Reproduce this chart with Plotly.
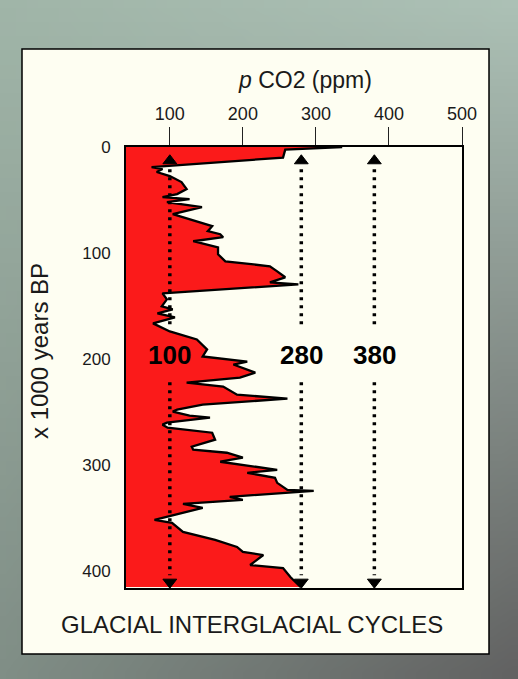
import base64, struct, zlib
import plotly.graph_objects as go

# ---------------- data ----------------
kyr_bp = [0, 2.5, 10, 19, 20.8, 23.6, 27.4, 33.1, 39.7, 44.4, 47.3, 49.2, 52.0, 56.7,
          63.4, 74.7, 79.4, 82.3, 85.1, 88.9, 94.6, 101.2, 107.8, 112.5,
          117.3, 122.9, 127.7, 129.6, 138.1, 143.7, 150.4, 153.2, 157.0, 160.8,
          166.4, 174.0, 181.6, 191.0, 197.6, 202.4, 205.2, 212.8, 217.5, 222.2,
          226.0, 233.6, 237.4, 243.0, 247.8, 249.6, 253.4, 255.3, 260.0, 261.9,
          264.8, 269.5, 276.1, 282.7, 285.6, 288.4, 293.1, 296.9, 304.5, 307.3,
          312.1, 316.8, 323.4, 324.3, 330.0, 332.9, 336.6, 340.4, 351.8, 354.6,
          363.1, 370.7, 377.3, 382.0, 384.9, 394.3, 397.2, 405.7, 415.1]
co2_ppm = [336, 258, 255, 75, 90, 82, 100, 116, 123, 110, 90, 127, 96, 144,
           104, 158, 152, 169, 173, 132, 166, 166, 176, 237,
           247, 258, 237, 276, 90, 96, 89, 104, 83, 107,
           77, 100, 137, 151, 145, 206, 187, 217, 196, 123,
           173, 192, 261, 145, 110, 104, 127, 155, 96, 90,
           97, 158, 162, 130, 132, 178, 200, 169, 247, 206,
           244, 247, 261, 297, 182, 200, 118, 145, 79, 103,
           118, 162, 192, 200, 228, 210, 255, 265, 279]

x_ticks = [100, 200, 300, 400, 500]
y_ticks = [0, 100, 200, 300, 400]
reference_levels = [100, 280, 380]
reference_labels = ["100", "280", "380"]

# arrow geometry (in kyr BP)
arrow_head_top = 13.0
arrow_head_bottom = 410.5
dots_upper = (21, 172)
dots_lower = (222, 404)
label_kyr = 196

W, H = 518, 679

# ---------------- gradient background as PNG ----------------
def make_png(w, h, colors):
    raw = b"".join(b"\x00" + bytes(sum(row, [])) for row in colors)
    def chunk(tag, data):
        c = struct.pack(">I", len(data)) + tag + data
        return c + struct.pack(">I", zlib.crc32(tag + data) & 0xffffffff)
    ihdr = struct.pack(">IIBBBBB", w, h, 8, 2, 0, 0, 0)
    return (b"\x89PNG\r\n\x1a\n" + chunk(b"IHDR", ihdr) +
            chunk(b"IDAT", zlib.compress(raw, 9)) + chunk(b"IEND", b""))

TL, TR, BL, BR = (160, 181, 168), (172, 192, 181), (128, 142, 134), (98, 98, 98)
gw, gh = 48, 48
rows = []
for j in range(gh):
    v = j / (gh - 1)
    row = []
    for i in range(gw):
        u = i / (gw - 1)
        px = []
        for k in range(3):
            top = TL[k] * (1 - u) + TR[k] * u
            bot = BL[k] * (1 - u) + BR[k] * u
            px.append(int(round(top * (1 - v) + bot * v)))
        row.append(px)
    rows.append(row)
png_uri = "data:image/png;base64," + base64.b64encode(make_png(gw, gh, rows)).decode()

def fx(px):
    return px / W

def fy(py):
    return 1 - py / H

fig = go.Figure()

# CO2 curve with red fill
fig.add_trace(go.Scatter(
    x=co2_ppm, y=kyr_bp, mode="lines", fill="tozerox",
    fillcolor="#fb1a1a", line=dict(color="black", width=2.3),
    hoverinfo="skip", showlegend=False))

# dotted reference arrows
for lvl in reference_levels:
    for seg in (dots_upper, dots_lower):
        fig.add_trace(go.Scatter(
            x=[lvl, lvl], y=list(seg), mode="lines",
            line=dict(color="black", width=3.5, dash="3px,5px"),
            hoverinfo="skip", showlegend=False))
fig.add_trace(go.Scatter(
    x=reference_levels, y=[arrow_head_top] * len(reference_levels), mode="markers",
    marker=dict(symbol="triangle-up", size=12, color="black",
                line=dict(color="black", width=1)),
    cliponaxis=False, hoverinfo="skip", showlegend=False))
fig.add_trace(go.Scatter(
    x=reference_levels, y=[arrow_head_bottom] * len(reference_levels), mode="markers",
    marker=dict(symbol="triangle-down", size=12, color="black",
                line=dict(color="black", width=1)),
    cliponaxis=False, hoverinfo="skip", showlegend=False))

annotations = []
for lvl, lab in zip(reference_levels, reference_labels):
    annotations.append(dict(
        x=lvl, y=label_kyr, xref="x", yref="y", text="<b>%s</b>" % lab,
        showarrow=False, xanchor="center", yanchor="middle",
        font=dict(size=26, color="black",
                  family="Liberation Sans, Arial, sans-serif")))

annotations += [
    dict(x=fx(305), y=fy(80), xref="paper", yref="paper",
         text="<i>p</i> CO2 (ppm)", showarrow=False,
         xanchor="center", yanchor="middle",
         font=dict(size=23, color="#1a1a1a")),
    dict(x=fx(39), y=fy(351), xref="paper", yref="paper",
         text="x 1000 years BP", textangle=-90, showarrow=False,
         xanchor="center", yanchor="middle",
         font=dict(size=24, color="#1a1a1a")),
    dict(x=fx(252), y=fy(624), xref="paper", yref="paper",
         text="GLACIAL INTERGLACIAL CYCLES", showarrow=False,
         xanchor="center", yanchor="middle",
         font=dict(size=24, color="#1a1a1a")),
]

fig.update_layout(
    width=W, height=H, autosize=False,
    margin=dict(l=0, r=0, t=0, b=0, pad=0),
    paper_bgcolor="#909a94",
    plot_bgcolor="rgba(0,0,0,0)",
    font=dict(family="Liberation Sans, Arial, sans-serif", color="#1a1a1a"),
    showlegend=False,
    images=[dict(source=png_uri, xref="paper", yref="paper", x=0, y=1,
                 sizex=1, sizey=1, sizing="stretch", xanchor="left",
                 yanchor="top", layer="below")],
    shapes=[dict(type="rect", xref="paper", yref="paper",
                 x0=fx(22), x1=fx(489), y0=fy(654), y1=fy(49),
                 fillcolor="#fefef2", line=dict(color="black", width=1.5),
                 layer="below")],
    annotations=annotations,
    xaxis=dict(domain=[fx(126), fx(462)], range=[40, 500], side="top",
               tickvals=x_ticks, ticks="outside", ticklen=18, tickwidth=1,
               tickcolor="#222", showline=True, mirror=True, linecolor="black",
               linewidth=2, showgrid=False, zeroline=False, automargin=False,
               tickfont=dict(size=18, color="#1a1a1a"), ticklabelstandoff=0),
    yaxis=dict(domain=[fy(588), fy(147)], range=[416, 0],
               tickvals=y_ticks, ticks="outside", ticklen=10, automargin=False,
               tickcolor="rgba(0,0,0,0)", showline=True, mirror=True,
               linecolor="black", linewidth=2, showgrid=False, zeroline=False,
               tickfont=dict(size=17, color="#1a1a1a")),
)

fig.write_html("out.html", config={"displayModeBar": False},
               post_script="document.body.style.margin='0';document.body.style.overflow='hidden';")
